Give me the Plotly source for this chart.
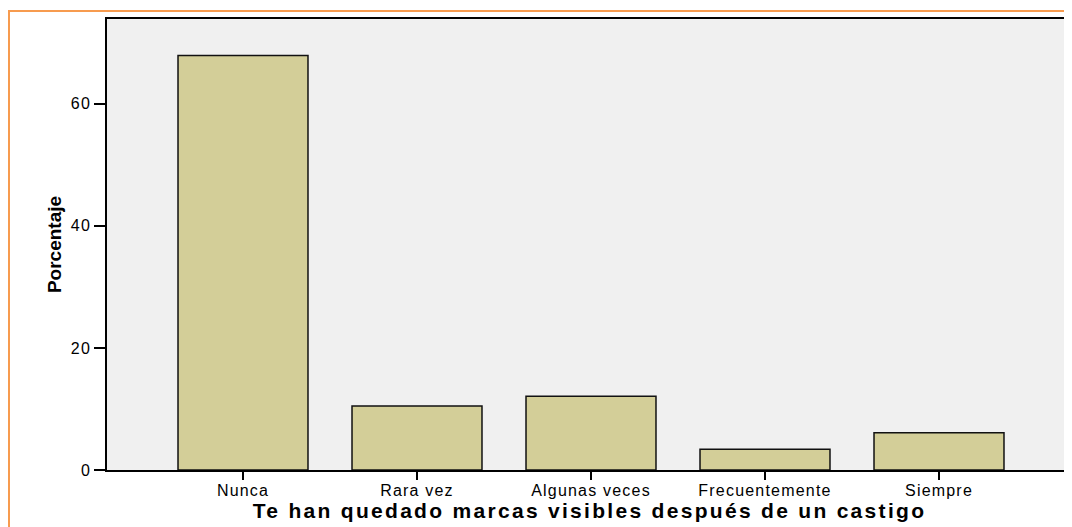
import plotly.graph_objects as go

categories = ["Nunca", "Rara vez", "Algunas veces", "Frecuentemente", "Siempre"]
percentages = [67.9, 10.5, 12.1, 3.4, 6.1]
y_ticks = [0, 20, 40, 60]

# page has an 8px body margin, so the figure is sized/offset to compensate
W, H = 1064, 519
L, T, B = 99, 11, 57
plot_w = W - L
plot_h = H - T - B
px_per_cat = 174.0
x_left = -(235 - L) / px_per_cat
x_right = x_left + plot_w / px_per_cat

def wide(s, sp):
    return f'<span style="letter-spacing:{sp}px">{s}</span>'

fig = go.Figure(go.Bar(
    x=categories, y=percentages,
    marker=dict(color="#D3CE98", line=dict(color="#111111", width=1.5)),
    width=0.747,
    hoverinfo="x+y",
))

fig.update_layout(
    width=W, height=H,
    margin=dict(l=L, r=0, t=T, b=B),
    paper_bgcolor="white",
    plot_bgcolor="#F0F0F0",
    showlegend=False,
    font=dict(family="Liberation Sans, Arial, sans-serif", color="black", size=16),
    xaxis=dict(
        range=[x_left, x_right], showgrid=False, zeroline=False,
        showline=True, linecolor="black", linewidth=1.5, mirror=True,
        ticks="outside", ticklen=8, tickwidth=1.5, tickcolor="black",
        tickvals=categories, ticktext=[wide(c, 1.2) for c in categories],
        tickfont=dict(size=16), ticklabelstandoff=-3,
        title=dict(text="<b>" + wide("Te han quedado marcas visibles después de un castigo", 2.3) + "</b>",
                   font=dict(size=21), standoff=3),
    ),
    yaxis=dict(
        range=[0, 73.9], tickvals=y_ticks, ticktext=[wide(str(v), 1.2) for v in y_ticks],
        showgrid=False, zeroline=False,
        showline=True, linecolor="black", linewidth=1.5,
        ticks="outside", ticklen=11, tickwidth=1.5, tickcolor="black",
        tickfont=dict(size=16),
        title=dict(text="<b>Porcentaje</b>",
                   font=dict(size=19, family="Liberation Sans Narrow, Arial Narrow, Liberation Sans, sans-serif"),
                   standoff=4),
    ),
    shapes=[dict(
        type="rect", xref="paper", yref="paper",
        x0=(1 - L) / plot_w, x1=1.3,
        y0=-0.5, y1=(H - B - 3) / plot_h,
        line=dict(color="#F79B4F", width=2), fillcolor="rgba(0,0,0,0)",
        layer="below",
    )],
)

fig.write_html("out.html")
